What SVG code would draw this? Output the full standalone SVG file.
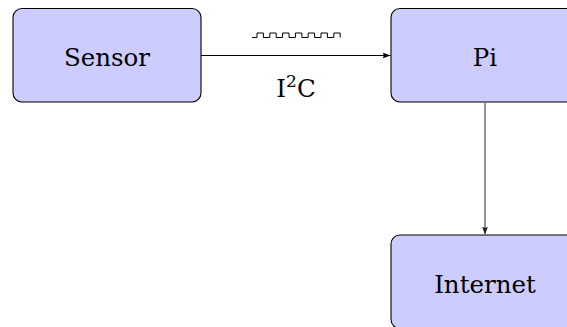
<svg xmlns="http://www.w3.org/2000/svg" width="567" height="327" viewBox="0 0 567 327">
  <style>
    .box { fill: #ccccff; stroke: #000; stroke-width: 1.1; }
    .label { font-family: 'DejaVu Serif', 'Liberation Serif', serif; font-size: 24.5px; fill: #000; text-anchor: middle; }
    .wire { fill: none; stroke: #000; stroke-width: 1; }
  </style>
  <defs>
    <marker id="tip" viewBox="0 0 8 6" refX="8" refY="3" markerWidth="8" markerHeight="6" markerUnits="userSpaceOnUse" orient="auto">
      <path d="M0,0 L8,3 L0,6 L1.6,3 Z" fill="#000"/>
    </marker>
    <marker id="tip-gray" viewBox="0 0 8 6" refX="8" refY="3" markerWidth="8" markerHeight="6" markerUnits="userSpaceOnUse" orient="auto">
      <path d="M0,0 L8,3 L0,6 L1.6,3 Z" fill="#222"/>
    </marker>
  </defs>

  <g id="sensor">
    <rect class="box" x="13" y="8.5" width="188" height="93.5" rx="9" ry="9"/>
    <text class="label" x="107" y="66">Sensor</text>
  </g>

  <g id="pi">
    <rect class="box" x="391" y="8.5" width="188" height="93.5" rx="9" ry="9"/>
    <text class="label" x="485" y="66">Pi</text>
  </g>

  <g id="internet">
    <rect class="box" x="391" y="235" width="188" height="93.5" rx="9" ry="9"/>
    <text class="label" x="485" y="293">Internet</text>
  </g>

  <g id="connectors">
    <line class="wire" x1="201" y1="55.5" x2="390.5" y2="55.5" marker-end="url(#tip)"/>
    <line x1="485" y1="102" x2="485" y2="234.5" stroke="#7a7a7a" stroke-width="1.6" marker-end="url(#tip-gray)"/>
    <!-- clock waveform above the bus -->
    <path class="wire" stroke-width="1.3" d="M252,37.5 H257 V33 H263.4 V37.5 H269.8 V33 H276.2 V37.5 H282.6 V33 H289 V37.5 H295.4 V33 H301.8 V37.5 H308.2 V33 H314.6 V37.5 H321 V33 H327.4 V37.5 H333.8 V33 H340.2 V37.5"/>
    <text class="label" x="296" y="97">I<tspan font-size="17" dy="-10">2</tspan><tspan dy="10">C</tspan></text>
  </g>
</svg>
